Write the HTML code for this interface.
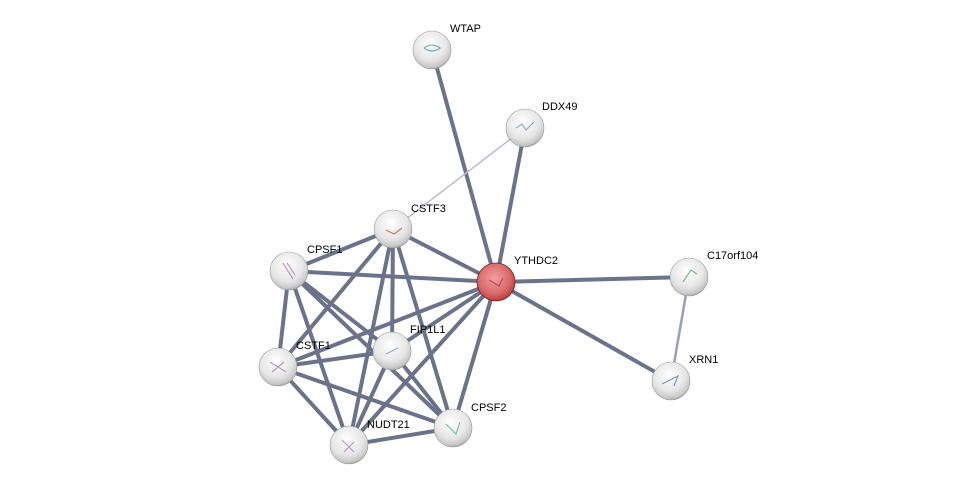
<!DOCTYPE html>
<html><head><meta charset="utf-8"><style>
html,body{margin:0;padding:0;background:#fff;}
svg{display:block;}
text{font-family:"Liberation Sans",sans-serif;font-size:11px;fill:#000;}
</style></head><body>
<svg width="975" height="491" viewBox="0 0 975 491" xmlns="http://www.w3.org/2000/svg">
<defs>
<radialGradient id="g" cx="0.45" cy="0.35" r="0.7">
<stop offset="0" stop-color="#ffffff"/><stop offset="0.6" stop-color="#e6e6e6"/><stop offset="0.85" stop-color="#c8c8c8"/><stop offset="1" stop-color="#8a8a8a"/>
</radialGradient>
<radialGradient id="r" cx="0.45" cy="0.4" r="0.7">
<stop offset="0" stop-color="#f2a0a0"/><stop offset="0.6" stop-color="#d86868"/><stop offset="0.9" stop-color="#b03a3a"/><stop offset="1" stop-color="#7a1a1a"/>
</radialGradient>
<linearGradient id="hl" x1="0" y1="0" x2="0" y2="1"><stop offset="0" stop-color="#fff" stop-opacity="0.9"/><stop offset="1" stop-color="#fff" stop-opacity="0"/></linearGradient>
</defs>
<g stroke="#5c6480" stroke-width="4" stroke-linecap="round" opacity="0.9">
<line x1="432" y1="50" x2="496" y2="282"/>
<line x1="525" y1="128" x2="496" y2="282"/>
<line x1="496" y1="282" x2="689" y2="277"/>
<line x1="496" y1="282" x2="671" y2="381"/>
<line x1="496" y1="282" x2="393" y2="229"/>
<line x1="496" y1="282" x2="289" y2="271"/>
<line x1="496" y1="282" x2="278" y2="367"/>
<line x1="496" y1="282" x2="392" y2="351"/>
<line x1="496" y1="282" x2="453" y2="428"/>
<line x1="496" y1="282" x2="349" y2="445"/>
<line x1="393" y1="229" x2="289" y2="271"/>
<line x1="393" y1="229" x2="278" y2="367"/>
<line x1="393" y1="229" x2="392" y2="351"/>
<line x1="393" y1="229" x2="453" y2="428"/>
<line x1="393" y1="229" x2="349" y2="445"/>
<line x1="289" y1="271" x2="278" y2="367"/>
<line x1="289" y1="271" x2="392" y2="351"/>
<line x1="289" y1="271" x2="453" y2="428"/>
<line x1="289" y1="271" x2="349" y2="445"/>
<line x1="278" y1="367" x2="392" y2="351"/>
<line x1="278" y1="367" x2="453" y2="428"/>
<line x1="278" y1="367" x2="349" y2="445"/>
<line x1="392" y1="351" x2="453" y2="428"/>
<line x1="392" y1="351" x2="349" y2="445"/>
<line x1="453" y1="428" x2="349" y2="445"/>
</g>
<line x1="525" y1="128" x2="393" y2="229" stroke="#b8bccb" stroke-width="1.5"/>
<line x1="689" y1="277" x2="671" y2="381" stroke="#9aa0b8" stroke-width="2.5"/>
<g>
<circle cx="432" cy="50" r="19" fill="url(#g)" stroke="#999" stroke-width="0.6"/>
<circle cx="525" cy="128" r="19" fill="url(#g)" stroke="#999" stroke-width="0.6"/>
<circle cx="393" cy="229" r="19" fill="url(#g)" stroke="#999" stroke-width="0.6"/>
<circle cx="289" cy="271" r="19" fill="url(#g)" stroke="#999" stroke-width="0.6"/>
<circle cx="689" cy="277" r="19" fill="url(#g)" stroke="#999" stroke-width="0.6"/>
<circle cx="278" cy="367" r="19" fill="url(#g)" stroke="#999" stroke-width="0.6"/>
<circle cx="392" cy="351" r="19" fill="url(#g)" stroke="#999" stroke-width="0.6"/>
<circle cx="671" cy="381" r="19" fill="url(#g)" stroke="#999" stroke-width="0.6"/>
<circle cx="453" cy="428" r="19" fill="url(#g)" stroke="#999" stroke-width="0.6"/>
<circle cx="349" cy="445" r="19" fill="url(#g)" stroke="#999" stroke-width="0.6"/>
<circle cx="496" cy="282" r="19" fill="url(#r)" stroke="#7a2020" stroke-width="0.8"/>
</g>
<g opacity="0.7" fill="none" stroke-width="1.2">
<path d="M424 48 q8-6 16 0 q-8 6-16 0" stroke="#30a0a0"/>
<path d="M516 128 l6-4 l4 6 l8-8" stroke="#6a8ad0"/>
<path d="M386 230 l8 4 l8-6" stroke="#d04040"/>
<path d="M283 263 l10 16 m-6-16 l8 12" stroke="#a070d0"/>
<path d="M683 282 l8-12 l6 4" stroke="#4aa060"/>
<path d="M270 362 l16 10 m-14 0 l12-10" stroke="#a070d0"/>
<path d="M386 354 l12-6" stroke="#6a8ad0"/>
<path d="M662 384 l16-8 l-4 10" stroke="#4a70d0"/>
<path d="M446 424 l10 10 l4-12" stroke="#40b080"/>
<path d="M342 440 l12 12 m-10 0 l10-10" stroke="#a070d0"/>
<path d="M489 280 l10 6 l4-8" stroke="#c02060"/>
</g>
<text x="450" y="32">WTAP</text>
<text x="542" y="110">DDX49</text>
<text x="411" y="212">CSTF3</text>
<text x="307" y="253">CPSF1</text>
<text x="514" y="264">YTHDC2</text>
<text x="707" y="259">C17orf104</text>
<text x="410" y="333">FIP1L1</text>
<text x="296" y="349">CSTF1</text>
<text x="689" y="363">XRN1</text>
<text x="471" y="411">CPSF2</text>
<text x="367" y="428">NUDT21</text>
</svg>
</body></html>
